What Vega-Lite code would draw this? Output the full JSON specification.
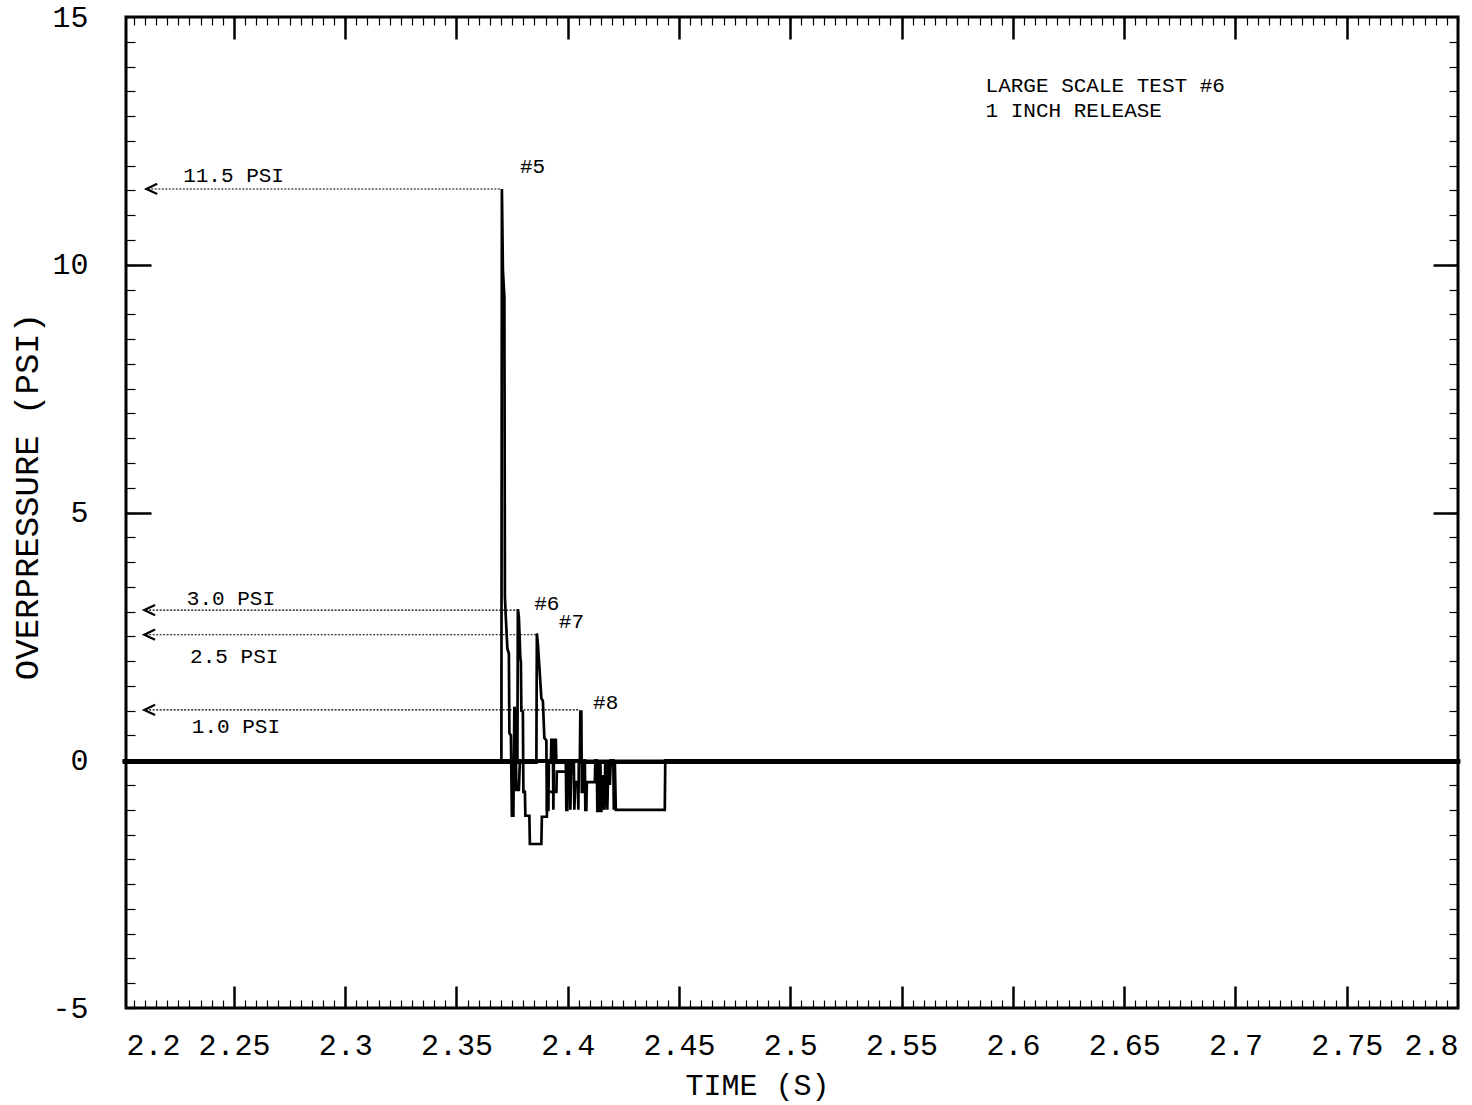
{
  "$schema": "https://vega.github.io/schema/vega-lite/v6.json",
  "width": 1332,
  "height": 991,
  "autosize": {"type": "none"},
  "padding": {"left": 126, "top": 17, "right": 14, "bottom": 97},
  "background": "white",
  "config": {
    "view": {"stroke": "black", "strokeWidth": 3},
    "axis": {"grid": false, "domain": false, "tickColor": "black", "labelColor": "black", "titleColor": "black", "labelFont": "Liberation Mono", "titleFont": "Liberation Mono", "titleFontWeight": "normal", "labelOverlap": false}
  },
  "datasets": {
    "traces": [
      {"g": "5", "t": 2.2, "v": -0.03},
      {"g": "5", "t": 2.37017, "v": -0.03},
      {"g": "5", "t": 2.3704, "v": 11.53},
      {"g": "5", "t": 2.37085, "v": 9.9},
      {"g": "5", "t": 2.37152, "v": 9.34},
      {"g": "5", "t": 2.37175, "v": 3.3},
      {"g": "5", "t": 2.37219, "v": 2.85},
      {"g": "5", "t": 2.37287, "v": 2.25},
      {"g": "5", "t": 2.37354, "v": 2.15},
      {"g": "5", "t": 2.37377, "v": 0.55},
      {"g": "5", "t": 2.37444, "v": 0.5},
      {"g": "5", "t": 2.37489, "v": -1.12},
      {"g": "5", "t": 2.37556, "v": -1.12},
      {"g": "5", "t": 2.37601, "v": 1.08},
      {"g": "5", "t": 2.37646, "v": 1.0},
      {"g": "5", "t": 2.37691, "v": -0.6},
      {"g": "5", "t": 2.37803, "v": -0.6},
      {"g": "5", "t": 2.37848, "v": -0.03},
      {"g": "5", "t": 2.801, "v": -0.03},
      {"g": "6", "t": 2.2, "v": -0.01},
      {"g": "6", "t": 2.37736, "v": -0.01},
      {"g": "6", "t": 2.37758, "v": 3.05},
      {"g": "6", "t": 2.37803, "v": 2.9},
      {"g": "6", "t": 2.3787, "v": 2.05},
      {"g": "6", "t": 2.37893, "v": 1.98},
      {"g": "6", "t": 2.37915, "v": 1.0},
      {"g": "6", "t": 2.37983, "v": 0.98},
      {"g": "6", "t": 2.38005, "v": -0.64},
      {"g": "6", "t": 2.38073, "v": -0.64},
      {"g": "6", "t": 2.38095, "v": -1.12},
      {"g": "6", "t": 2.38275, "v": -1.12},
      {"g": "6", "t": 2.38297, "v": -1.69},
      {"g": "6", "t": 2.38813, "v": -1.69},
      {"g": "6", "t": 2.38836, "v": -1.14},
      {"g": "6", "t": 2.3906, "v": -1.14},
      {"g": "6", "t": 2.39083, "v": -0.64},
      {"g": "6", "t": 2.39487, "v": -0.64},
      {"g": "6", "t": 2.39509, "v": -0.23},
      {"g": "6", "t": 2.40228, "v": -0.23},
      {"g": "6", "t": 2.4025, "v": -0.01},
      {"g": "6", "t": 2.801, "v": -0.01},
      {"g": "7", "t": 2.2, "v": -0.05},
      {"g": "7", "t": 2.38589, "v": -0.05},
      {"g": "7", "t": 2.38611, "v": 2.56},
      {"g": "7", "t": 2.38656, "v": 2.35},
      {"g": "7", "t": 2.38746, "v": 1.73},
      {"g": "7", "t": 2.38813, "v": 1.25},
      {"g": "7", "t": 2.38881, "v": 1.2},
      {"g": "7", "t": 2.38948, "v": 0.45},
      {"g": "7", "t": 2.39038, "v": 0.4},
      {"g": "7", "t": 2.3906, "v": -1.0},
      {"g": "7", "t": 2.39128, "v": -1.0},
      {"g": "7", "t": 2.3915, "v": -0.05},
      {"g": "7", "t": 2.3924, "v": -0.05},
      {"g": "7", "t": 2.39262, "v": 0.41},
      {"g": "7", "t": 2.3933, "v": 0.41},
      {"g": "7", "t": 2.39352, "v": -1.0},
      {"g": "7", "t": 2.39375, "v": -0.05},
      {"g": "7", "t": 2.3942, "v": 0.41},
      {"g": "7", "t": 2.39464, "v": 0.41},
      {"g": "7", "t": 2.39487, "v": -0.05},
      {"g": "7", "t": 2.39913, "v": -0.05},
      {"g": "7", "t": 2.39936, "v": -1.0},
      {"g": "7", "t": 2.39981, "v": -1.0},
      {"g": "7", "t": 2.40003, "v": -0.05},
      {"g": "7", "t": 2.40093, "v": -0.05},
      {"g": "7", "t": 2.40116, "v": -1.0},
      {"g": "7", "t": 2.40161, "v": -0.05},
      {"g": "7", "t": 2.40273, "v": -0.05},
      {"g": "7", "t": 2.40295, "v": -1.0},
      {"g": "7", "t": 2.4034, "v": -0.44},
      {"g": "7", "t": 2.40452, "v": -0.44},
      {"g": "7", "t": 2.40475, "v": -1.0},
      {"g": "7", "t": 2.40497, "v": -0.05},
      {"g": "7", "t": 2.801, "v": -0.05},
      {"g": "8", "t": 2.2, "v": 0.0},
      {"g": "8", "t": 2.40542, "v": 0.0},
      {"g": "8", "t": 2.40565, "v": 0.98},
      {"g": "8", "t": 2.4061, "v": 0.98},
      {"g": "8", "t": 2.40632, "v": -0.64},
      {"g": "8", "t": 2.40677, "v": -0.64},
      {"g": "8", "t": 2.40699, "v": 0.0},
      {"g": "8", "t": 2.40767, "v": 0.0},
      {"g": "8", "t": 2.40789, "v": -1.0},
      {"g": "8", "t": 2.40834, "v": -1.0},
      {"g": "8", "t": 2.40856, "v": -0.44},
      {"g": "8", "t": 2.41216, "v": -0.44},
      {"g": "8", "t": 2.41239, "v": 0.0},
      {"g": "8", "t": 2.41306, "v": 0.0},
      {"g": "8", "t": 2.41329, "v": -1.05},
      {"g": "8", "t": 2.41373, "v": 0.0},
      {"g": "8", "t": 2.41418, "v": -1.05},
      {"g": "8", "t": 2.41463, "v": 0.0},
      {"g": "8", "t": 2.41508, "v": -1.05},
      {"g": "8", "t": 2.41552, "v": -0.3},
      {"g": "8", "t": 2.41642, "v": -1.0},
      {"g": "8", "t": 2.41687, "v": 0.0},
      {"g": "8", "t": 2.41777, "v": -1.0},
      {"g": "8", "t": 2.41822, "v": 0.0},
      {"g": "8", "t": 2.4189, "v": -0.5},
      {"g": "8", "t": 2.41934, "v": 0.0},
      {"g": "8", "t": 2.42047, "v": 0.0},
      {"g": "8", "t": 2.42069, "v": -1.0},
      {"g": "8", "t": 2.42114, "v": 0.0},
      {"g": "8", "t": 2.42159, "v": -1.0},
      {"g": "8", "t": 2.44359, "v": -1.0},
      {"g": "8", "t": 2.44381, "v": 0.0},
      {"g": "8", "t": 2.801, "v": 0.0}
    ],
    "arrows": [
      {"t0": 2.2113, "t1": 2.3695, "ta": 2.2131, "v": 11.53},
      {"t0": 2.21033, "t1": 2.37745, "ta": 2.21213, "v": 3.03},
      {"t0": 2.21033, "t1": 2.38611, "ta": 2.21213, "v": 2.534},
      {"t0": 2.21033, "t1": 2.40542, "ta": 2.21213, "v": 1.016}
    ],
    "labels": [
      {"t": 2.22717, "v": 11.67, "txt": "11.5 PSI"},
      {"t": 2.22883, "v": 3.128, "txt": "3.0 PSI"},
      {"t": 2.23031, "v": 1.96, "txt": "2.5 PSI"},
      {"t": 2.23107, "v": 0.543, "txt": "1.0 PSI"},
      {"t": 2.37848, "v": 11.85, "txt": "#5"},
      {"t": 2.3849, "v": 3.03, "txt": "#6"},
      {"t": 2.39599, "v": 2.668, "txt": "#7"},
      {"t": 2.41139, "v": 1.028, "txt": "#8"}
    ],
    "notes": [
      {"t": 2.58771, "v": 13.486, "txt": "LARGE SCALE TEST #6"},
      {"t": 2.58771, "v": 12.99, "txt": "1 INCH RELEASE"}
    ]
  },
  "layer": [
    {
      "data": {"name": "traces"},
      "mark": {"type": "line", "color": "black", "strokeWidth": 2.7},
      "encoding": {
        "x": {"field": "t", "type": "quantitative", "scale": {"domain": [2.2015, 2.8], "nice": false, "zero": false},
          "axis": {"orient": "bottom", "values": [2.2015, 2.25, 2.3, 2.35, 2.4, 2.45, 2.5, 2.55, 2.6, 2.65, 2.7, 2.75, 2.8], "format": ".2~f", "ticks": false, "labelFontSize": 30, "labelPadding": 22, "labelFlush": true, "title": "TIME (S)", "titleFontSize": 30, "titleX": 631, "titleY": 86, "titleAlign": "center", "titleBaseline": "alphabetic"}},
        "y": {"field": "v", "type": "quantitative", "scale": {"domain": [-5, 15], "nice": false, "zero": false},
          "axis": {"orient": "left", "values": [-5, 0, 5, 10, 15], "labelExpr": "'' + datum.value", "ticks": false, "labelFontSize": 30, "labelPadding": 38, "title": "OVERPRESSURE (PSI)", "titleFontSize": 34, "titleX": -89, "titleY": 479, "titleAngle": 270, "titleAlign": "center", "titleBaseline": "alphabetic"}},
        "detail": {"field": "g", "type": "nominal"}
      }
    },
    {
      "data": {"name": "arrows"},
      "mark": {"type": "rule", "color": "black", "strokeWidth": 1.1, "strokeDash": [2, 1.5]},
      "encoding": {
        "x": {"field": "t0", "type": "quantitative", "scale": {"domain": [2.2015, 2.8], "nice": false, "zero": false},
          "axis": {"orient": "top", "values": [2.25, 2.3, 2.35, 2.4, 2.45, 2.5, 2.55, 2.6, 2.65, 2.7, 2.75], "labels": false, "tickSize": -22, "tickWidth": 2.5, "title": null}},
        "x2": {"field": "t1"},
        "y": {"field": "v", "type": "quantitative", "scale": {"domain": [-5, 15], "nice": false, "zero": false},
          "axis": {"orient": "right", "values": [0, 5, 10], "labels": false, "tickSize": -25, "tickWidth": 2.5, "title": null}}
      }
    },
    {
      "data": {"name": "arrows"},
      "mark": {"type": "point", "shape": "M 0.9,-0.85 L -0.9,0 L 0.9,0.85", "size": 144, "filled": false, "stroke": "black", "strokeWidth": 2.2, "opacity": 1},
      "encoding": {
        "x": {"field": "ta", "type": "quantitative", "scale": {"domain": [2.2015, 2.8], "nice": false, "zero": false},
          "axis": {"orient": "bottom", "values": [2.25, 2.3, 2.35, 2.4, 2.45, 2.5, 2.55, 2.6, 2.65, 2.7, 2.75], "labels": false, "tickSize": -22, "tickWidth": 2.5, "title": null}},
        "y": {"field": "v", "type": "quantitative", "scale": {"domain": [-5, 15], "nice": false, "zero": false},
          "axis": {"orient": "left", "values": [0, 5, 10], "labels": false, "tickSize": -25, "tickWidth": 2.5, "title": null}}
      }
    },
    {
      "data": {"name": "labels"},
      "mark": {"type": "text", "align": "left", "baseline": "alphabetic", "font": "Liberation Mono", "fontSize": 21, "color": "black"},
      "encoding": {
        "x": {"field": "t", "type": "quantitative", "scale": {"domain": [2.2015, 2.8], "nice": false, "zero": false},
          "axis": {"orient": "bottom", "tickCount": 120, "labels": false, "tickSize": -8, "tickWidth": 1.2, "title": null}},
        "y": {"field": "v", "type": "quantitative", "scale": {"domain": [-5, 15], "nice": false, "zero": false},
          "axis": {"orient": "left", "tickCount": 40, "labels": false, "tickSize": -9, "tickWidth": 1.2, "title": null}},
        "text": {"field": "txt", "type": "nominal"}
      }
    },
    {
      "data": {"name": "notes"},
      "mark": {"type": "text", "align": "left", "baseline": "alphabetic", "font": "Liberation Mono", "fontSize": 21, "color": "black"},
      "encoding": {
        "x": {"field": "t", "type": "quantitative", "scale": {"domain": [2.2015, 2.8], "nice": false, "zero": false},
          "axis": {"orient": "top", "tickCount": 120, "labels": false, "tickSize": -8, "tickWidth": 1.2, "title": null}},
        "y": {"field": "v", "type": "quantitative", "scale": {"domain": [-5, 15], "nice": false, "zero": false},
          "axis": {"orient": "right", "tickCount": 40, "labels": false, "tickSize": -9, "tickWidth": 1.2, "title": null}},
        "text": {"field": "txt", "type": "nominal"}
      }
    }
  ],
  "resolve": {"axis": {"x": "independent", "y": "independent"}}
}
